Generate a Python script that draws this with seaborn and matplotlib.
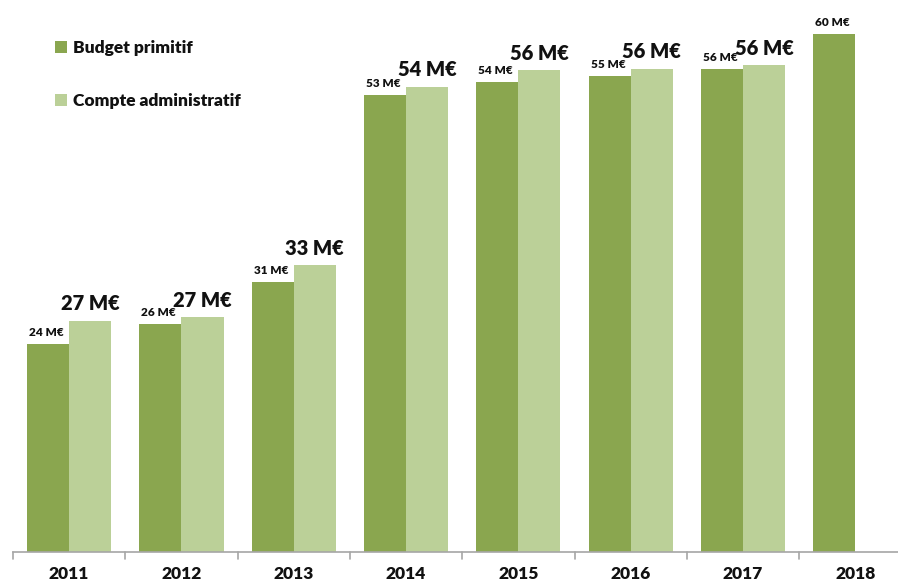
import numpy as np
import pandas as pd
import matplotlib
matplotlib.use("Agg")
import matplotlib.pyplot as plt
import seaborn as sns

years = ["2011", "2012", "2013", "2014", "2015", "2016", "2017", "2018"]
budget_primitif = [24.1, 26.4, 31.3, 52.9, 54.4, 55.1, 55.9, 60.0]
compte_administratif = [26.8, 27.2, 33.2, 53.9, 55.8, 56.0, 56.4, np.nan]
series = ["Budget primitif", "Compte administratif"]
colors = ["#8aa64f", "#bbd098"]

df = pd.DataFrame({
    "annee": years * 2,
    "serie": [series[0]] * len(years) + [series[1]] * len(years),
    "valeur": budget_primitif + compte_administratif,
})

sns.set_theme(style="white")
plt.rcParams["font.family"] = ["Lato", "DejaVu Sans"]
plt.rcParams["font.weight"] = "bold"

W, H = 898, 583
fig = plt.figure(figsize=(W / 100, H / 100), dpi=100)
ax = fig.add_axes([13 / W, 31 / H, 898.4 / W, 552 / H])

sns.barplot(data=df, x="annee", y="valeur", hue="serie", hue_order=series,
            order=years, palette=colors, width=0.75, saturation=1,
            errorbar=None, ax=ax, linewidth=0)

ax.set_xlim(-0.5, 7.5)
ax.set_ylim(0, 63.95)
ax.set_xlabel("")
ax.set_ylabel("")
ax.set_yticks([])
for s in ["top", "right", "left"]:
    ax.spines[s].set_visible(False)
ax.spines["bottom"].set_color("#a6a6a6")
ax.spines["bottom"].set_linewidth(1.2)

# year labels centred under each group, separator ticks at group boundaries
ax.set_xticks(range(len(years)))
ax.set_xticklabels(years, fontsize=12.5, fontweight="heavy", color="#111111")
ax.tick_params(axis="x", length=0, pad=10)
for b in np.arange(-0.5, len(years), 1.0):
    ax.plot([b, b], [0, -0.8], color="#a6a6a6", lw=1.2, clip_on=False)

off = 0.75 / 4
for i, v in enumerate(budget_primitif):
    ax.text(i - off - 0.015, v + 0.7, f"{v:.0f} M€", ha="center", va="bottom",
            fontsize=8.5, fontweight="heavy", color="#111111")
for i, v in enumerate(compte_administratif):
    if np.isnan(v):
        continue
    ax.text(i + off, v + 0.85, f"{v:.0f} M€", ha="center", va="bottom",
            fontsize=14.5, fontweight="heavy", color="#111111")

leg = ax.legend(loc="upper left", bbox_to_anchor=(0.029, 0.955), frameon=False,
                fontsize=12.5, handlelength=0.7, handleheight=0.7,
                handletextpad=0.35, labelspacing=2.1)
for t in leg.get_texts():
    t.set_fontweight("heavy")
    t.set_color("#111111")

fig.savefig("out.png", dpi=100)
